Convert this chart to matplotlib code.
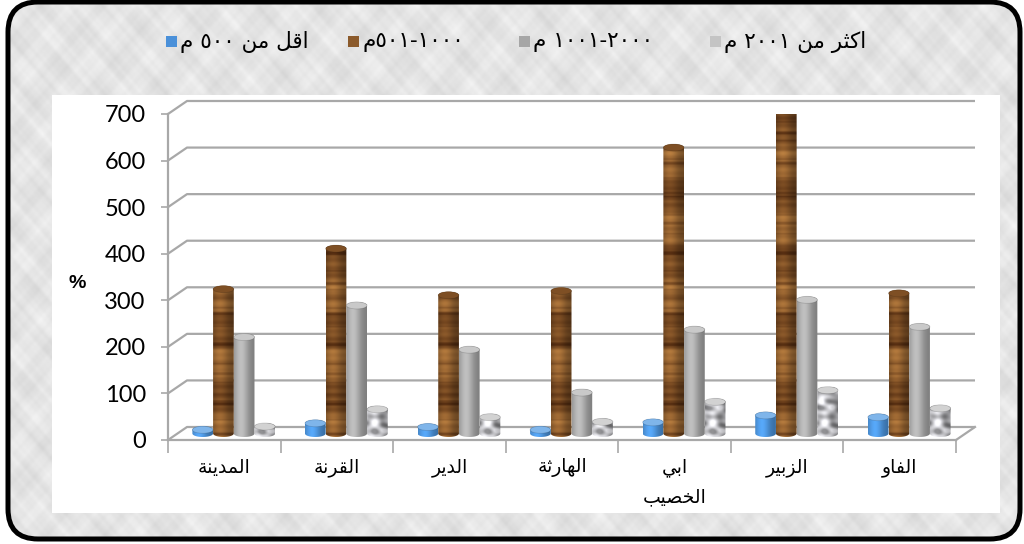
import re

import numpy as np
import matplotlib
matplotlib.use("Agg")
import matplotlib.pyplot as plt
from matplotlib.patches import Polygon, Ellipse, Rectangle, FancyBboxPatch

# ---- data -------------------------------------------------------------
categories = ["المدينة", "القرنة", "الدير", "الهارثة", "ابي\nالخصيب", "الزبير", "الفاو"]
series_names = ["اقل من ٥٠٠ م", "٥٠١-١٠٠٠م", "١٠٠١-٢٠٠٠ م", "اكثر من ٢٠٠١ م"]
below_500 = [8, 22, 14, 8, 24, 39, 35]
from_501_to_1000 = [310, 397, 297, 306, 614, 693, 301]
from_1001_to_2000 = [207, 275, 180, 88, 223, 287, 229]
above_2001 = [15, 52, 35, 25, 68, 93, 54]
y_ticks = [0, 100, 200, 300, 400, 500, 600, 700]
y_label = "%"

# ---- minimal arabic shaping (matplotlib has no bidi / joining) -----------
FORMS = {
    "ا": ("\ufe8d", "\ufe8e"), "ة": ("\ufe93", "\ufe94"), "د": ("\ufea9", "\ufeaa"),
    "ر": ("\ufead", "\ufeae"), "ز": ("\ufeaf", "\ufeb0"), "و": ("\ufeed", "\ufeee"),
    "ب": ("\ufe8f", "\ufe90", "\ufe91", "\ufe92"), "ت": ("\ufe95", "\ufe96", "\ufe97", "\ufe98"),
    "ث": ("\ufe99", "\ufe9a", "\ufe9b", "\ufe9c"), "خ": ("\ufea5", "\ufea6", "\ufea7", "\ufea8"),
    "ص": ("\ufeb9", "\ufeba", "\ufebb", "\ufebc"), "ف": ("\ufed1", "\ufed2", "\ufed3", "\ufed4"),
    "ق": ("\ufed5", "\ufed6", "\ufed7", "\ufed8"), "ك": ("\ufed9", "\ufeda", "\ufedb", "\ufedc"),
    "ل": ("\ufedd", "\ufede", "\ufedf", "\ufee0"), "م": ("\ufee1", "\ufee2", "\ufee3", "\ufee4"),
    "ن": ("\ufee5", "\ufee6", "\ufee7", "\ufee8"), "ه": ("\ufee9", "\ufeea", "\ufeeb", "\ufeec"),
    "ي": ("\ufef1", "\ufef2", "\ufef3", "\ufef4"),
}


def shape_line(text):
    out = []
    for i, ch in enumerate(text):
        if ch not in FORMS:
            out.append(ch)
            continue
        prev = text[i - 1] if i > 0 else None
        nxt = text[i + 1] if i + 1 < len(text) else None
        forms = FORMS[ch]
        join_prev = prev in FORMS and len(FORMS[prev]) == 4
        join_next = len(forms) == 4 and nxt in FORMS
        if join_prev and join_next:
            out.append(forms[3])
        elif join_prev:
            out.append(forms[1])
        elif join_next:
            out.append(forms[2])
        else:
            out.append(forms[0])
    vis = "".join(out)[::-1]
    return re.sub(r"[0-9\u0660-\u0669\-]+", lambda m: m.group()[::-1], vis)


def rtl(text):
    return "\n".join(shape_line(line) for line in text.split("\n"))


def blotches(xx, yy, waves):
    v = np.zeros(np.broadcast(xx, yy).shape)
    for fx, fy, ph, amp in waves:
        v = v + amp * np.sin(xx * fx + yy * fy + ph)
    return (v - v.min()) / (np.ptp(v) + 1e-9)


GRANITE_WAVES = [(1.2, 0.21, 0.3, 1.0), (-0.9, 0.33, 1.7, 0.9), (1.7, -0.15, 2.9, 0.7),
                 (0.5, 0.53, 4.1, 0.6), (-1.4, -0.41, 0.8, 0.5), (2.3, 0.12, 5.3, 0.4)]
BG_WAVES = [(0.11, 0.07, 0.0, 1.0), (-0.09, 0.13, 1.3, 0.9), (0.23, -0.17, 2.1, 0.7),
            (0.31, 0.27, 3.7, 0.6), (-0.41, 0.37, 0.4, 0.5), (0.57, -0.49, 5.1, 0.4),
            (0.77, 0.69, 2.6, 0.3), (-0.93, 0.81, 1.1, 0.25)]


# ---- textures for the cylinders --------------------------------------
def shade_profile(ncols):
    u = np.linspace(0, 1, ncols)
    return 0.74 + 0.40 * np.exp(-((u - 0.33) / 0.38) ** 2)


def texture(kind, y0, y1, ncols=24):
    nrows = max(int((y1 - y0) * 1.2), 4)
    y = np.linspace(y0, y1, nrows)[:, None]
    shade = shade_profile(ncols)[None, :, None]
    if kind == "wood":
        v = 0.55 + 0.2 * np.sin(y * 0.043 + 0.7) + 0.12 * np.sin(y * 0.131 + 2.1) + 0.07 * np.sin(y * 0.37)
        lines = (np.exp(-((np.sin(y * 0.097 + 0.4) - 1) ** 2) / 0.003)
                 + 0.6 * np.exp(-((np.sin(y * 0.059 + 2.3) - 1) ** 2) / 0.004)
                 + 0.5 * np.exp(-((np.sin(y * 0.157 + 1.1) - 1) ** 2) / 0.002))
        v = np.clip(v - 0.35 * lines, 0, 1)
        v = np.repeat(v, ncols, axis=1)[..., None]
        dark = np.array([0.30, 0.16, 0.06])
        light = np.array([0.68, 0.47, 0.24])
        rgb = dark * (1 - v) + light * v
    elif kind == "granite":
        xx = np.linspace(0, 5, ncols)[None, :]
        v = blotches(xx, y * 0.7, GRANITE_WAVES)
        g = 0.5 + 0.46 * np.clip((v - 0.2) * 1.5, 0, 1)
        rgb = np.stack([g, g, g * 1.02], axis=-1)
    elif kind == "blue":
        rgb = np.ones((nrows, ncols, 3)) * np.array([0.30, 0.58, 0.86])
    else:
        rgb = np.ones((nrows, ncols, 3)) * np.array([0.66, 0.66, 0.66])
    return np.clip(rgb * shade, 0, 1)


def cylinder_outline(xc, w, b, t, eh, n=40):
    th1 = np.linspace(np.pi, 2 * np.pi, n)
    th2 = np.linspace(0, np.pi, n)
    xs = np.r_[xc + w / 2 * np.cos(th1), xc + w / 2 * np.cos(th2)]
    ys = np.r_[b + eh / 2 * np.sin(th1), t + eh / 2 * np.sin(th2)]
    return np.column_stack([xs, ys])


# ---- figure ----------------------------------------------------------
W_PX, H_PX = 1024, 544
fig = plt.figure(figsize=(W_PX / 100, H_PX / 100), dpi=100)

bg = fig.add_axes([0, 0, 1, 1])
bg.set_xlim(0, W_PX)
bg.set_ylim(H_PX, 0)
bg.axis("off")

yy, xx = np.mgrid[0:H_PX:2, 0:W_PX:2].astype(float)
noise = blotches(xx, yy, BG_WAVES)
frame = FancyBboxPatch((8, 2), 1012, 537, boxstyle="round,pad=0,rounding_size=30",
                       fc="none", ec="black", lw=3.6, zorder=5)
bg.add_patch(frame)
img = bg.imshow(0.83 + 0.13 * noise, cmap="gray", vmin=0, vmax=1, extent=(0, W_PX, H_PX, 0),
                aspect="auto", zorder=0, interpolation="bilinear")
img.set_clip_path(frame)
bg.add_patch(Rectangle((52, 95), 948, 418, fc="white", ec="none", zorder=1))

# legend
legend_colors = ["#4a90d9", "#8b5a2b", "#a6a6a6", "#c4c4c4"]
legend_marker_x = [166, 348, 519, 710]
for name, color, mx in zip(series_names, legend_colors, legend_marker_x):
    bg.add_patch(Rectangle((mx, 36), 11, 11, fc=color, ec="none", zorder=2))
    bg.text(mx + 14, 42, rtl(name), fontsize=15.5, family="DejaVu Sans",
            ha="left", va="center", zorder=2)

bg.text(77, 283, y_label, fontsize=14, fontweight="bold", family="Liberation Sans",
        ha="center", va="center", zorder=2)

# main (pseudo 3d) axes
left, right, bottom, top = 168, 956, 440, 114
ax = fig.add_axes([left / W_PX, 1 - bottom / H_PX, (right - left) / W_PX, (bottom - top) / H_PX])
ax.patch.set_visible(False)
n_cat = len(categories)
ax.set_xlim(-0.5, n_cat - 0.5)
ax.set_ylim(0, 700)

sx = (right - left) / n_cat
sy = (bottom - top) / 700
dx, dy = 19 / sx, 13 / sy
eh = 7 / sy
grid_c = "#a8a8a8"

for v in y_ticks:
    ax.plot([-0.5, -0.5 + dx, n_cat - 0.5 + dx], [v, v + dy, v + dy], color=grid_c,
            lw=1.6, clip_on=False, zorder=1, solid_capstyle="butt")
ax.plot([n_cat - 0.5, n_cat - 0.5 + dx], [0, dy], color=grid_c, lw=1.6, clip_on=False, zorder=1)

for side in ["top", "right"]:
    ax.spines[side].set_visible(False)
for side in ["left", "bottom"]:
    ax.spines[side].set_color(grid_c)
    ax.spines[side].set_linewidth(1.6)

ax.set_yticks(y_ticks)
ax.set_yticklabels([str(v) for v in y_ticks], family="Lato", fontsize=17)
ax.tick_params(axis="y", direction="out", length=5, width=1.2, color=grid_c, pad=11)
ax.set_xticks(range(n_cat))
ax.set_xticklabels([rtl(c) for c in categories], family="DejaVu Sans", fontsize=13.5,
                   linespacing=1.7)
ax.set_xticks(np.arange(n_cat + 1) - 0.5, minor=True)
ax.tick_params(axis="x", which="major", length=0, pad=13)
ax.tick_params(axis="x", which="minor", direction="out", length=9, width=1.2, color=grid_c)

series = [below_500, from_501_to_1000, from_1001_to_2000, above_2001]
kinds = ["blue", "wood", "gray", "granite"]
caps = ["#7fb5ea", "#7e4f24", "#c9c9c9", "#d2d2d2"]
bw = 20.7 / sx
base = dy / 2
for j, (vals, kind, cap) in enumerate(zip(series, kinds, caps)):
    for i, v in enumerate(vals):
        xc = i + dx / 2 + (j - 1.5) * bw
        t = base + v
        outline = Polygon(cylinder_outline(xc, bw, base, t, eh), closed=True,
                          fc="none", ec="none", transform=ax.transData)
        ax.add_patch(outline)
        im = ax.imshow(texture(kind, base - eh / 2, t + eh / 2), origin="lower", aspect="auto",
                       extent=(xc - bw / 2, xc + bw / 2, base - eh / 2, t + eh / 2),
                       zorder=3, interpolation="bilinear")
        im.set_clip_path(outline)
        ax.add_patch(Ellipse((xc, t), bw, eh, fc=cap, ec=(0, 0, 0, 0.15), lw=0.6, zorder=4))

ax.set_xlim(-0.5, n_cat - 0.5)
ax.set_ylim(0, 700)

fig.savefig("out.png", dpi=100)
